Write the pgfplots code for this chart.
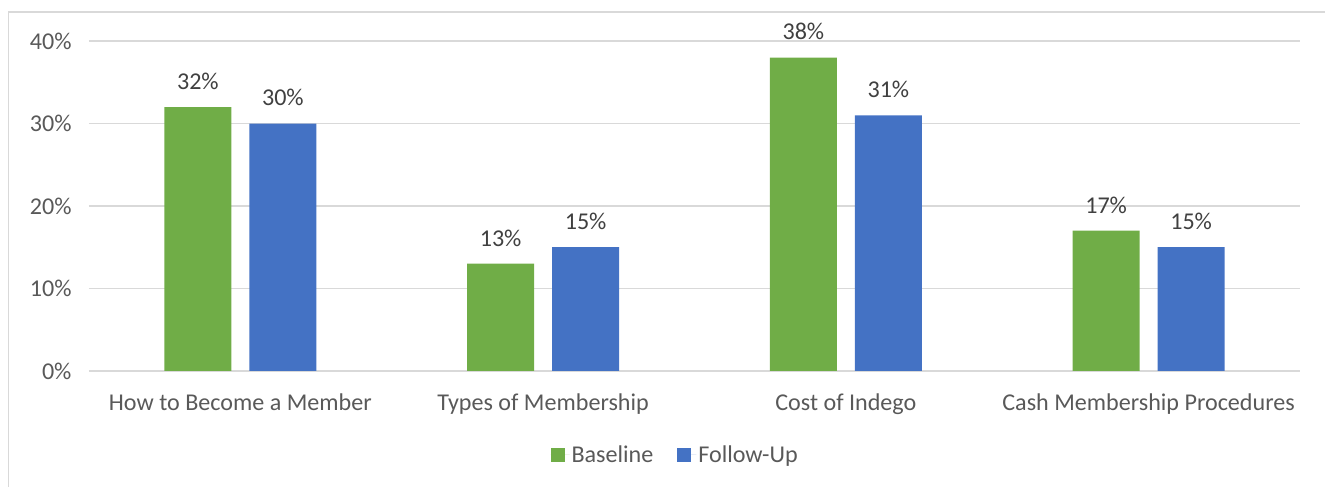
\documentclass[border=0pt]{standalone}
\usepackage{pgfplots}
\pgfplotsset{compat=1.18}
\usepackage{fontspec}
\setmainfont{Carlito}
\definecolor{cgreen}{HTML}{70AD47}
\definecolor{cblue}{HTML}{4472C4}
\definecolor{ctext}{HTML}{595959}
\definecolor{clabel}{HTML}{404040}
\definecolor{cgrid}{HTML}{D9D9D9}
\begin{document}
\begin{tikzpicture}
\useasboundingbox (0bp,0bp) rectangle (1325bp,487bp);
\draw[cgrid, line width=1.2bp] (8.5bp,-10bp) -- (8.5bp,475bp) -- (1340bp,475bp);
\begin{axis}[
  at={(89bp,116bp)}, anchor=south west,
  scale only axis, width=1211bp, height=330bp,
  xmin=-0.5, xmax=3.5, ymin=0, ymax=40,
  clip=false,
  /pgf/number format/assume math mode=true,
  ybar=18bp, bar width=67bp,
  axis line style={draw=none},
  major tick length=0pt,
  ymajorgrids, grid style={cgrid, line width=1.2bp},
  xtick={0,1,2,3},
  xticklabels={How to Become a Member, Types of Membership, Cost of Indego, Cash Membership Procedures},
  ytick={0,10,20,30,40},
  yticklabel={\pgfmathprintnumber{\tick}\%},
  tick label style={font=\fontsize{24.2}{29}\selectfont, text=ctext},
  yticklabel style={xshift=-14bp},
  xticklabel style={yshift=-19bp},
  nodes near coords={\pgfmathprintnumber{\pgfplotspointmeta}\%},
  nodes near coords style={font=\fontsize{24.2}{29}\selectfont, text=clabel, yshift=14bp},
  legend style={at={(0.484,-0.2545)}, anchor=center, draw=none, fill=none,
    font=\fontsize{24.2}{29}\selectfont, text=ctext,
    /tikz/every even column/.append style={column sep=22bp},
    inner sep=0pt},
  legend columns=2,
  legend image code/.code={\path (0bp,0bp) -- (19bp,0bp); \fill[#1] (0bp,-7bp) rectangle (14bp,7bp);},
]
\addplot[fill=cgreen, draw=none] coordinates {(0,32) (1,13) (2,38) (3,17)};
\addplot[fill=cblue, draw=none] coordinates {(0,30) (1,15) (2,31) (3,15)};
\legend{Baseline, Follow-Up}
\end{axis}
\end{tikzpicture}
\end{document}
